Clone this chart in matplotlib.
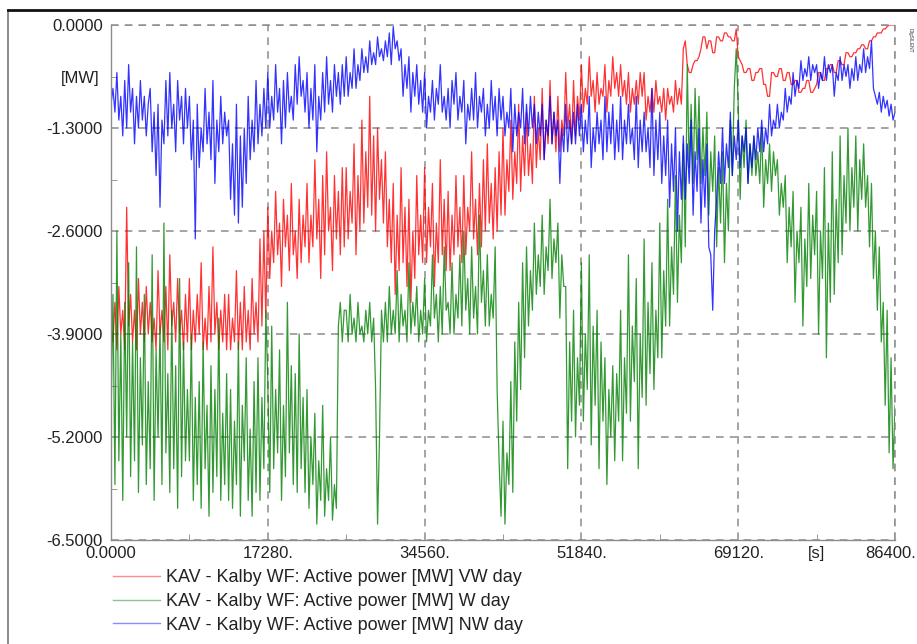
import numpy as np
import matplotlib
matplotlib.use("Agg")
import matplotlib.pyplot as plt
from matplotlib.lines import Line2D
from matplotlib.ticker import FixedLocator, FixedFormatter

plt.rcParams['font.family'] = ['Liberation Sans', 'DejaVu Sans']

# Sampling step of the recorded series [s]
step_s = 216

# Active power, VW day [MW]
vw_day = [
    -3.8, -4.0, -3.5, -4.1, -3.3, -3.9, -3.6, -4.1, -2.3, -3.8, -3.4, -4.0, -3.6, -4.1, -3.2, -3.9, -3.5, -4.0, -3.3, -3.9,
    -3.5, -4.0, -3.7, -4.1, -3.1, -3.9, -3.6, -4.0, -3.3, -4.1, -2.9, -3.8, -3.5, -4.0, -3.2, -3.9, -3.6, -4.1, -3.4, -4.0,
    -3.2, -4.1, -3.6, -4.0, -3.4, -3.9, -3.0, -4.1, -3.7, -4.1, -3.3, -4.0, -2.8, -3.9, -3.5, -4.1, -3.6, -4.0, -3.4, -4.1,
    -3.4, -4.1, -3.7, -4.0, -3.1, -4.1, -3.5, -4.1, -3.3, -4.0, -3.6, -4.1, -3.2, -3.9, -3.5, -4.0, -2.7, -3.8, -2.6, -3.7,
    -2.3, -3.2, -2.6, -3.0, -2.1, -2.9, -2.5, -3.3, -2.2, -2.8, -2.4, -3.1, -2.0, -2.9, -2.6, -3.2, -2.2, -3.0, -2.4, -2.8,
    -2.0, -3.0, -2.4, -2.8, -1.7, -2.7, -2.2, -3.2, -1.9, -2.9, -1.6, -2.6, -2.3, -3.1, -1.9, -2.7, -2.1, -2.9, -1.8, -2.8,
    -1.8, -2.7, -2.1, -2.5, -1.5, -2.9, -1.9, -2.6, -1.2, -2.5, -1.6, -2.3, -0.9, -2.4, -1.4, -2.6, -1.3, -2.2, -1.7, -2.5,
    -1.6, -2.8, -2.2, -3.0, -2.0, -3.4, -2.4, -3.1, -1.8, -3.0, -2.3, -3.3, -2.2, -3.5, -2.6, -3.2, -1.9, -2.9, -2.4, -3.0,
    -1.8, -3.0, -2.3, -2.8, -2.0, -3.3, -2.5, -3.0, -1.7, -2.9, -2.2, -3.1, -2.1, -3.1, -2.4, -2.9, -1.9, -2.8, -2.3, -3.0,
    -1.9, -2.9, -2.3, -2.6, -1.6, -2.7, -2.2, -2.9, -2.0, -2.8, -1.7, -2.6, -1.5, -2.5, -2.0, -2.7, -1.8, -2.6, -1.6, -2.4,
    -1.3, -2.4, -1.7, -2.1, -1.2, -2.2, -1.6, -2.0, -1.0, -2.1, -1.4, -1.9, -1.1, -1.9, -1.5, -2.0, -0.9, -1.8, -1.3, -1.7,
    -0.8, -1.7, -1.2, -1.5, -0.7, -1.5, -1.1, -1.6, -0.9, -1.6, -1.2, -1.4, -0.6, -1.3, -1.0, -1.5, -0.7, -1.4, -0.9, -1.2,
    -0.5, -1.1, -0.8, -1.0, -0.4, -0.9, -0.7, -1.1, -0.6, -1.0, -0.8, -0.9, -0.5, -1.1, -0.7, -0.9, -0.4, -0.8, -0.6, -0.9,
    -0.5, -0.9, -0.7, -1.0, -0.6, -1.1, -0.8, -1.0, -0.7, -1.0, -0.6, -0.9, -0.6, -1.2, -0.9, -1.1, -0.8, -1.1, -0.7, -1.0,
    -0.9, -1.1, -0.8, -1.2, -0.8, -1.0, -0.9, -1.1, -0.7, -1.0, -0.8, -1.0, -0.3, -0.2, -0.5, -0.6, -0.6, -0.5, -0.45, -0.45,
    -0.4, -0.3, -0.15, -0.15, -0.3, -0.2, -0.2, -0.35, -0.35, -0.15, -0.15, -0.2, -0.2, -0.1, -0.1, -0.15, -0.15, -0.2, -0.2, -0.05,
    -0.4, -0.45, -0.5, -0.6, -0.6, -0.55, -0.55, -0.7, -0.7, -0.6, -0.6, -0.55, -0.55, -0.75, -0.75, -0.9, -0.9, -0.6, -0.6, -0.65,
    -0.65, -0.55, -0.55, -0.7, -0.7, -0.6, -0.6, -0.75, -0.75, -0.7, -0.7, -0.85, -0.85, -0.8, -0.8, -0.7, -0.7, -0.85, -0.85, -0.8,
    -0.75, -0.6, -0.6, -0.7, -0.7, -0.55, -0.55, -0.5, -0.5, -0.6, -0.6, -0.45, -0.45, -0.5, -0.5, -0.35, -0.35, -0.4, -0.4, -0.35,
    -0.35, -0.3, -0.3, -0.25, -0.25, -0.3, -0.3, -0.2, -0.2, -0.15, -0.15, -0.1, -0.1, -0.1, -0.05, -0.05, -0.02, 0.0, 0.0, 0.0,
    0.0,
]

# Active power, W day [MW]
w_day = [
    -5.0, -3.4, -5.8, -2.6, -5.5, -3.9, -6.0, -3.5, -5.2, -3.0, -5.7, -4.0, -5.5, -2.8, -5.9, -4.2, -5.3, -3.4, -5.8, -4.5,
    -5.6, -2.9, -6.0, -4.1, -5.2, -3.8, -5.8, -2.5, -5.4, -4.4, -5.9, -3.6, -5.6, -4.3, -6.1, -3.2, -5.7, -4.0, -5.5, -4.6,
    -5.5, -3.9, -6.0, -4.7, -5.8, -4.5, -6.1, -4.0, -5.6, -4.8, -6.2, -4.3, -5.9, -4.6, -5.7, -3.7, -6.0, -4.9, -5.8, -4.4,
    -6.0, -4.6, -6.1, -5.0, -5.8, -4.0, -6.2, -4.8, -5.5, -4.2, -6.0, -5.1, -6.2, -4.5, -5.9, -4.2, -6.0, -4.7, -5.6, -3.6,
    -4.5, -5.9, -3.8, -5.6, -4.6, -5.4, -4.1, -6.0, -4.8, -5.7, -3.5, -5.4, -4.3, -5.8, -4.4, -5.9, -3.9, -5.6, -4.7, -5.9,
    -4.6, -6.1, -5.2, -5.8, -4.9, -6.3, -5.5, -6.0, -4.8, -6.2, -5.6, -6.0, -5.2, -6.25, -5.8, -6.1, -3.8, -3.5, -4.0, -3.6,
    -3.6, -4.0, -3.4, -3.9, -3.7, -4.0, -3.5, -3.9, -3.8, -4.0, -3.6, -3.9, -3.5, -4.0, -3.7, -4.6, -6.3, -5.2, -3.6, -4.0,
    -3.5, -4.0, -3.3, -3.9, -3.6, -3.9, -3.1, -4.0, -3.4, -3.8, -3.6, -4.0, -3.0, -3.9, -3.5, -3.8, -3.3, -4.0, -3.6, -3.9,
    -3.2, -4.0, -3.6, -3.8, -2.9, -3.7, -3.4, -4.0, -3.3, -3.9, -2.8, -3.6, -3.5, -3.9, -3.0, -3.9, -3.4, -3.7, -2.9, -3.8,
    -2.6, -3.6, -3.2, -3.9, -2.8, -3.7, -3.3, -3.9, -2.4, -3.5, -3.1, -3.8, -2.9, -3.8, -3.4, -3.7, -2.8, -4.6, -5.5, -6.2,
    -5.0, -6.3, -5.4, -5.8, -4.5, -5.9, -4.0, -5.0, -3.5, -4.6, -3.0, -4.2, -2.8, -3.8, -3.1, -3.6, -2.5, -3.4, -2.9, -3.3,
    -2.4, -3.4, -2.8, -3.1, -2.2, -3.2, -2.7, -3.0, -2.5, -3.7, -2.9, -3.3, -3.3, -5.6, -4.0, -5.0, -3.6, -5.2, -4.2, -4.8,
    -3.0, -5.0, -3.9, -4.6, -2.9, -5.3, -3.8, -4.8, -3.6, -5.6, -4.0, -5.0, -4.2, -5.8, -4.6, -5.2, -4.3, -5.5, -4.4, -5.0,
    -3.6, -5.5, -4.2, -4.9, -2.9, -5.0, -3.8, -4.5, -3.2, -5.6, -3.9, -4.7, -2.7, -4.8, -3.5, -4.4, -3.0, -4.6, -3.6, -4.2,
    -2.5, -4.2, -3.1, -3.8, -2.2, -3.8, -2.8, -3.4, -1.9, -3.5, -2.4, -3.0, -1.5, -2.8, -0.5, -1.8, -1.0, -2.0, -0.8, -1.7,
    -0.9, -2.0, -1.3, -1.9, -1.1, -2.4, -1.6, -2.1, -1.4, -2.8, -1.8, -2.5, -1.6, -3.0, -2.0, -2.6, -1.2, -1.9, -0.8, -0.3,
    -1.0, -2.2, -1.4, -1.8, -1.2, -2.0, -1.5, -1.9, -1.4, -1.9, -1.6, -2.0, -1.3, -2.3, -1.7, -2.0, -1.5, -2.1, -1.6, -1.9,
    -1.7, -2.4, -2.0, -2.3, -1.9, -3.0, -2.3, -2.8, -2.1, -3.5, -2.6, -3.0, -2.3, -3.8, -2.7, -3.3, -2.0, -3.2, -2.4, -2.9,
    -2.1, -3.9, -2.6, -3.2, -1.8, -4.2, -2.5, -3.5, -1.6, -3.4, -2.2, -3.0, -1.4, -2.9, -1.9, -2.5, -1.3, -2.6, -1.8, -2.3,
    -1.4, -2.6, -1.7, -2.2, -1.5, -2.3, -1.9, -2.8, -2.0, -3.2, -2.6, -3.6, -2.8, -4.0, -3.5, -4.8, -3.6, -5.4, -4.2, -5.6,
    -4.8,
]

# Active power, NW day [MW]
nw_day = [
    -1.0, -0.8, -1.1, -0.6, -1.2, -0.9, -1.4, -0.7, -1.3, -0.5, -1.1, -0.8, -1.5, -0.9, -1.3, -0.7, -1.2, -0.9, -1.4, -1.0,
    -0.8, -1.6, -1.1, -1.9, -1.0, -2.3, -1.2, -1.5, -0.7, -1.4, -0.6, -1.3, -1.0, -1.6, -0.7, -1.2, -0.9, -1.5, -0.8, -1.3,
    -0.9, -1.7, -1.2, -2.7, -1.0, -1.8, -1.3, -1.6, -0.8, -1.5, -1.1, -1.7, -0.7, -2.0, -1.2, -1.6, -0.9, -1.5, -1.1, -1.4,
    -1.2, -2.2, -1.5, -2.4, -1.0, -2.5, -1.4, -2.3, -1.3, -2.0, -0.9, -1.7, -1.2, -1.6, -0.7, -1.5, -1.0, -1.4, -0.8, -1.3,
    -0.6, -1.3, -0.9, -1.2, -0.5, -1.1, -0.8, -1.5, -0.7, -1.3, -0.6, -1.1, -0.9, -1.2, -0.5, -1.0, -0.4, -0.9, -0.7, -1.1,
    -0.6, -1.3, -0.8, -1.2, -0.5, -1.6, -0.9, -1.2, -0.6, -1.1, -0.4, -1.0, -0.7, -1.1, -0.5, -0.9, -0.6, -1.0, -0.5, -0.9,
    -0.4, -0.9, -0.6, -0.8, -0.3, -0.8, -0.5, -0.7, -0.3, -0.6, -0.4, -0.6, -0.2, -0.5, -0.35, -0.5, -0.15, -0.4, -0.3, -0.45,
    -0.2, -0.4, -0.1, -0.5, -0.02, -0.3, -0.2, -0.45, -0.3, -0.9, -0.5, -0.8, -0.4, -1.1, -0.6, -0.9, -0.5, -1.0, -0.7, -1.1,
    -0.6, -1.3, -0.9, -1.1, -0.7, -1.2, -0.8, -1.0, -0.5, -1.1, -0.9, -1.2, -0.8, -1.3, -0.7, -1.0, -0.6, -1.2, -0.9, -1.1,
    -0.7, -1.5, -1.0, -1.2, -0.8, -1.2, -0.6, -1.3, -0.9, -1.1, -0.8, -1.4, -1.0, -1.3, -0.7, -1.2, -0.9, -1.4, -0.8, -1.2,
    -0.9, -1.4, -1.1, -1.3, -0.8, -1.6, -1.0, -1.4, -1.1, -1.3, -0.8, -1.5, -1.0, -1.4, -0.9, -1.3, -1.0, -1.5, -1.1, -1.4,
    -1.0, -1.7, -1.2, -1.4, -0.9, -1.5, -1.1, -1.4, -1.2, -2.0, -1.3, -1.6, -1.0, -1.6, -1.2, -1.5, -1.1, -1.5, -1.0, -1.4,
    -1.0, -1.6, -1.2, -1.5, -0.9, -1.8, -1.3, -1.6, -1.1, -1.5, -1.2, -1.7, -0.9, -1.6, -1.1, -1.5, -1.0, -1.7, -1.2, -1.6,
    -0.9, -1.7, -1.2, -1.5, -1.0, -1.5, -1.3, -1.7, -0.9, -1.8, -1.2, -1.6, -1.1, -1.6, -1.3, -1.8, -0.8, -1.9, -1.2, -1.7,
    -1.1, -2.0, -1.4, -1.9, -1.2, -2.3, -1.5, -2.1, -1.3, -2.6, -1.6, -2.2, -1.4, -2.2, -1.5, -2.0, -1.2, -2.4, -1.6, -2.1,
    -1.3, -2.5, -1.7, -2.3, -1.5, -2.8, -2.9, -3.6, -2.6, -2.2, -1.6, -2.0, -1.3, -2.0, -1.5, -1.8, -1.1, -1.9, -1.4, -1.7,
    -1.2, -1.8, -1.4, -1.6, -1.3, -2.0, -1.5, -1.8, -1.4, -1.7, -1.3, -1.6, -1.2, -1.6, -1.3, -1.5, -1.0, -1.4, -1.2, -1.3,
    -1.0, -1.3, -1.1, -1.2, -0.8, -1.1, -0.9, -1.0, -0.6, -0.9, -0.7, -0.8, -0.45, -0.7, -0.55, -0.65, -0.4, -0.7, -0.5, -0.6,
    -0.5, -0.8, -0.6, -0.7, -0.4, -0.7, -0.5, -0.6, -0.5, -0.9, -0.6, -0.7, -0.4, -0.7, -0.5, -0.65, -0.5, -0.8, -0.55, -0.7,
    -0.4, -0.7, -0.5, -0.6, -0.3, -0.6, -0.4, -0.55, -0.2, -0.8, -0.9, -1.0, -0.85, -1.1, -0.9, -1.05, -0.95, -1.15, -1.0, -1.2,
    -1.1,
]

series_labels = [
    "KAV - Kalby WF: Active power [MW] VW day",
    "KAV - Kalby WF: Active power [MW] W day",
    "KAV - Kalby WF: Active power [MW] NW day",
]
series_colors = ["#ff0000", "#008000", "#0000ff"]

x_ticks = [0, 17280, 34560, 51840, 69120, 86400]
x_tick_labels = ["0.0000", "17280.", "34560.", "51840.", "69120.", "86400."]
y_ticks = [0.0, -1.3, -2.6, -3.9, -5.2, -6.5]
y_tick_labels = ["0.0000", "-1.3000", "-2.6000", "-3.9000", "-5.2000", "-6.5000"]
x_unit = "[s]"
y_unit = "[MW]"

W, H = 917, 644
fig = plt.figure(figsize=(W / 100, H / 100), dpi=100)
ax = fig.add_axes([111 / W, 1 - 540 / H, 784 / W, 515 / H])

for vals, col in zip([vw_day, w_day, nw_day], series_colors):
    t = np.arange(len(vals)) * step_s
    ax.plot(t, vals, color=col, lw=0.9, alpha=0.8)

ax.set_xlim(0, 86400)
ax.set_ylim(-6.5, 0.0)

text_col = "#222222"
fs = 12
ax.xaxis.set_major_locator(FixedLocator(x_ticks))
# last x label is placed by hand so it stays inside the figure
ax.xaxis.set_major_formatter(FixedFormatter(x_tick_labels[:-1] + [""]))
ax.yaxis.set_major_locator(FixedLocator(y_ticks))
ax.yaxis.set_major_formatter(FixedFormatter(y_tick_labels))

x_minor = [(a + b) / 2 for a, b in zip(x_ticks[:-1], x_ticks[1:])]
y_minor = [(a + b) / 2 for a, b in zip(y_ticks[:-1], y_ticks[1:])]
ax.xaxis.set_minor_locator(FixedLocator(x_minor))
ax.xaxis.set_minor_formatter(FixedFormatter(["", "", "", "", x_unit]))
ax.yaxis.set_minor_locator(FixedLocator(y_minor))
ax.yaxis.set_minor_formatter(FixedFormatter([y_unit, "", "", "", ""]))

ax.tick_params(axis="both", which="both", direction="in", color="#888888",
               labelsize=fs, labelcolor=text_col)
ax.tick_params(axis="both", which="major", length=0)
ax.tick_params(axis="both", which="minor", length=4)
ax.tick_params(axis="y", which="major", pad=6)
ax.tick_params(axis="y", which="minor", pad=8)
ax.tick_params(axis="x", which="both", pad=4)

ax.annotate(x_tick_labels[-1], xy=(x_ticks[-1], -6.5), xycoords="data",
            xytext=(-3, -4), textcoords="offset points", ha="center", va="top",
            fontsize=fs, color=text_col, annotation_clip=False)

ax.grid(True, which="major", color="#8c8c8c", linestyle=(0, (5, 4)), lw=1.1)
for side in ["top", "right"]:
    ax.spines[side].set_visible(False)
for side in ["left", "bottom"]:
    ax.spines[side].set_color("#8c8c8c")
    ax.spines[side].set_linewidth(1.0)
ax.axhline(0.0, color="#8c8c8c", linestyle=(0, (5, 4)), lw=1.1, clip_on=False)
ax.axvline(86400, color="#8c8c8c", linestyle=(0, (5, 4)), lw=1.1, clip_on=False)
ax.set_axisbelow(True)

# legend below the plot
handles = [Line2D([], [], color=c, lw=1.0, alpha=0.45) for c in series_colors]
fig.legend(handles, series_labels, loc="upper left",
           bbox_to_anchor=(113 / W, 1 - 569 / H), frameon=False,
           borderpad=0, borderaxespad=0,
           fontsize=13, handlelength=2.6, handletextpad=0.35,
           labelspacing=0.38, labelcolor=text_col)

# outer frame
fig.add_artist(Line2D([8 / W, 8 / W], [1 - 10 / H, 0], transform=fig.transFigure,
                      color="#777777", lw=1.2))
fig.add_artist(Line2D([8 / W, 1.0], [1 - 10 / H, 1 - 10 / H], transform=fig.transFigure,
                      color="#111111", lw=2.0))
fig.text(910 / W, 1 - 40 / H, "DIgSILENT", rotation=270, fontsize=3.5,
         color="#333333", ha="center", va="center")

fig.savefig("out.png", dpi=100)
